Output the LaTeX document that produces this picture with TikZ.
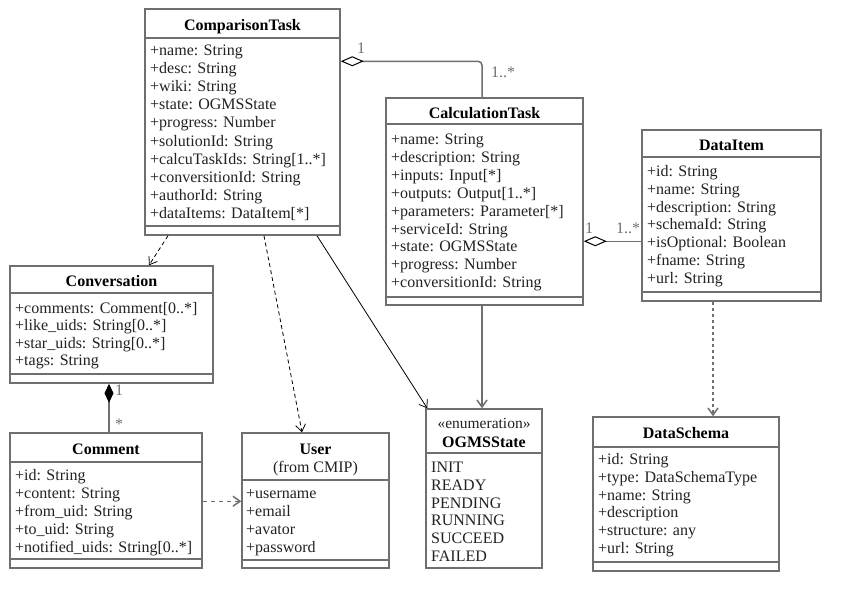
\documentclass[tikz,border=0pt]{standalone}
\usepackage{fontspec}
\setmainfont{Liberation Serif}
\usetikzlibrary{arrows.meta}
\definecolor{edge}{HTML}{6F6F6F}
\definecolor{ink}{HTML}{222222}

\tikzset{
  x=1pt, y=-1pt,
  classbox/.style={draw=edge, line width=1.5pt, fill=white, inner sep=0pt, rectangle},
  sepline/.style={draw=edge, line width=1.5pt},
  title/.style={font=\fontsize{16}{18}\selectfont\bfseries, text=black, inner sep=0pt, anchor=base},
  subtitle/.style={font=\fontsize{16}{18}\selectfont, text=ink, inner sep=0pt, anchor=base},
  stereo/.style={font=\fontsize{15.5}{17}\selectfont, text=ink, inner sep=0pt, anchor=base},
  attr/.style={font=\fontsize{16}{18}\selectfont, text=ink, inner sep=0pt, anchor=base west},
  mult/.style={font=\fontsize{16}{18}\selectfont, text=edge, inner sep=0pt},
  vtip/.style={-{Straight Barb[length=7pt,width=10pt]}},
  thinrel/.style={draw=black, line width=0.8pt, vtip},
  dep/.style={thinrel, dash pattern=on 4pt off 3pt},
  grayrel/.style={draw=edge, line width=1.5pt},
  graydep/.style={grayrel, vtip, dash pattern=on 4pt off 4pt},
  agg/.style={grayrel, rounded corners=4pt, {Diamond[open, length=23pt, width=10pt, color=black, line width=1pt]}-},
  comp/.style={grayrel, {Diamond[length=19pt, width=9pt, color=black]}-},
}

% class box: name, left, top, right, bottom, header separator y, bottom separator y
\newcommand{\umlbox}[7]{%
  \node[classbox, minimum width={#4-#2}, minimum height={#5-#3}] (#1) at ({(#2+#4)/2},{(#3+#5)/2}) {};
  \draw[sepline] (#2,#6) -- (#4,#6);
  \draw[sepline] (#2,#7) -- (#4,#7);
}
% attribute lines: prefix, x, first baseline, line step, list
\newcommand{\attrlines}[5]{%
  \foreach \attrtext [count=\k] in {#5} {\node[attr] (#1-\k) at (#2,{#3+(\k-1)*#4}) {\attrtext};}
}

\begin{document}
\begin{tikzpicture}
\useasboundingbox[fill=white] (0,0) rectangle (860,611);

% ComparisonTask
\umlbox{ct}{145}{9}{340}{235}{38}{226}
\node[title] (ct-title) at (242.5,30) {ComparisonTask};
\attrlines{ct}{150}{55.5}{18.1}{+name: String, +desc: String, +wiki: String, +state: OGMSState, +progress: Number, +solutionId: String, +calcuTaskIds: String[1..*], +conversitionId: String, +authorId: String, +dataItems: DataItem[*]}

% CalculationTask
\umlbox{calc}{386}{98}{583}{305}{124}{297}
\node[title] (calc-title) at (484.5,118) {CalculationTask};
\attrlines{calc}{391}{144.5}{17.9}{+name: String, +description: String, +inputs: Input[*], +outputs: Output[1..*], +parameters: Parameter[*], +serviceId: String, +state: OGMSState, +progress: Number, +conversitionId: String}

% DataItem
\umlbox{di}{642}{130}{821}{301}{157}{292}
\node[title] (di-title) at (731.5,150.5) {DataItem};
\attrlines{di}{647}{176.5}{17.8}{+id: String, +name: String, +description: String, +schemaId: String, +isOptional: Boolean, +fname: String, +url: String}

% Conversation
\umlbox{conv}{10}{266}{213}{383}{293}{374}
\node[title] (conv-title) at (111.5,286.5) {Conversation};
\attrlines{conv}{15}{313.5}{17.4}{+comments: Comment[0..*], +like\_uids: String[0..*], +star\_uids: String[0..*], +tags: String}

% Comment
\umlbox{cm}{10}{433}{202}{568}{462}{559}
\node[title] (cm-title) at (106,454.5) {Comment};
\attrlines{cm}{15}{480.5}{18}{+id: String, +content: String, +from\_uid: String, +to\_uid: String, +notified\_uids: String[0..*]}

% User
\umlbox{usr}{242}{433}{389}{568}{480}{560}
\node[title] (usr-title) at (315.5,454.5) {User};
\node[subtitle] (usr-from) at (315.5,472.5) {(from CMIP)};
\attrlines{usr}{246}{498.5}{18}{+username, +email, +avator, +password}

% OGMSState enumeration
\node[classbox, minimum width=116pt, minimum height=159pt] (og) at (484,488.5) {};
\draw[sepline] (426,453) -- (542,453);
\node[stereo] (og-stereo) at (484,428.5) {«enumeration»};
\node[title] (og-title) at (484,447.5) {OGMSState};
\attrlines{og}{431}{472.5}{17.8}{INIT, READY, PENDING, RUNNING, SUCCEED, FAILED}

% DataSchema
\umlbox{ds}{593}{417}{779}{571}{447}{562}
\node[title] (ds-title) at (686,438.5) {DataSchema};
\attrlines{ds}{598}{464.5}{17.8}{+id: String, +type: DataSchemaType, +name: String, +description, +structure: any, +url: String}

% aggregations
\draw[agg] ([yshift=-53pt]ct.north east) -| ([xshift=-2.5pt]calc.north);
\node[mult] (m-ct) at (361,48) {1};
\node[mult] (m-calc) at (503,72) {1..*};

\draw[agg] ([yshift=-144pt]calc.north east) coordinate (a2) -- (a2 -| di.west);
\node[mult] (m-calc2) at (589,228) {1};
\node[mult] (m-di) at (628,228) {1..*};

% composition
\draw[comp] ([xshift=-2.5pt]conv.south) coordinate (c1) -- (c1 |- cm.north);
\node[mult] (m-conv) at (119,390) {1};
\node[mult] (m-cm) at (119,424) {*};

% dependencies and references
\draw[dep] ([xshift=-74.5pt]ct.south) -- ([xshift=37.5pt]conv.north);
\draw[dep] ([xshift=21.5pt]ct.south) -- ([xshift=-13.5pt]usr.north);
\draw[thinrel] ([xshift=74.5pt]ct.south) -- ([xshift=2pt]og.north west);
\draw[grayrel, vtip] ([xshift=-2.5pt]calc.south) coordinate (c3) -- (c3 |- og.north);
\draw[graydep, dash pattern=on 3pt off 3pt] ([xshift=-18.5pt]di.south) coordinate (c4) -- (c4 |- ds.north);
\draw[graydep] ([yshift=-69pt]cm.north east) coordinate (c5) -- (c5 -| usr.west);

\end{tikzpicture}
\end{document}
